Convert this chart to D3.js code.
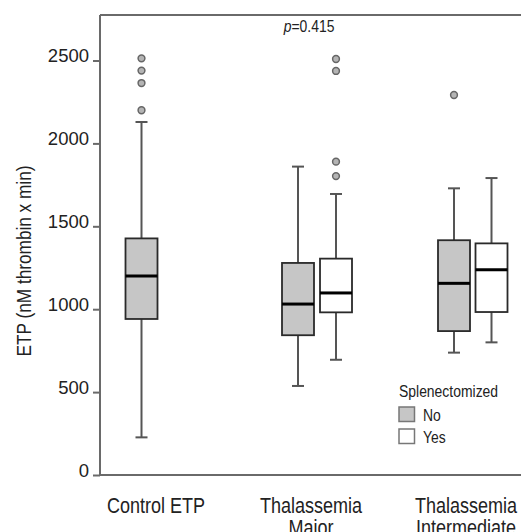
<!DOCTYPE html>
<html><head><meta charset="utf-8">
<script src="https://cdn.jsdelivr.net/npm/d3@7"></script>
<style>body{margin:0;background:#fff}svg{display:block}</style>
</head><body>
<svg id="chart" width="521" height="532"></svg>
<script>
// ---- data ----
const groups = ["Control ETP", "Thalassemia Major", "Thalassemia Intermediate"];
const groupLines = [["Control ETP"], ["Thalassemia", "Major"], ["Thalassemia", "Intermediate"]];
const boxKeys = ["Control", "Major-No", "Major-Yes", "Inter-No", "Inter-Yes"];
const boxSplen = ["No", "No", "Yes", "No", "Yes"];
const whiskerLow  = [227, 537, 695, 738, 800];
const q1          = [941, 843, 981, 868, 983];
const median      = [1200, 1031, 1098, 1156, 1238];
const q3          = [1427, 1279, 1305, 1416, 1397];
const whiskerHigh = [2129, 1860, 1695, 1729, 1791];
const outliers    = [[2513, 2439, 2364, 2200], [], [2509, 2437, 1890, 1803], [2292], []];
const yTicks = [0, 500, 1000, 1500, 2000, 2500];
const legendItems = ["No", "Yes"];
const pLabel = "0.415";

// ---- layout ----
const svg = d3.select("#chart");
const axisX = 100, bottomY = 475, topY = 15, rightX = 521;
const y = d3.scaleLinear().domain([0, 2500]).range([bottomY, 60.5]);
const xBox = d3.scaleOrdinal().domain(boxKeys).range([141.5, 298, 336, 454, 491.5]);
const xGroup = d3.scalePoint().domain(groups).range([156, 466]);
const fillScale = d3.scaleOrdinal().domain(["No", "Yes"]).range(["#c6c6c6", "#ffffff"]);
const boxW = 32, capW = 12;
const font = "'Liberation Sans', Arial, Helvetica, sans-serif";
const cond = 0.82; // horizontal condensing to mimic a condensed face

// frame lines
svg.append("line").attr("x1", axisX).attr("x2", rightX).attr("y1", topY).attr("y2", topY)
  .attr("stroke", "#6a6a6a").attr("stroke-width", 2);
svg.append("line").attr("x1", axisX).attr("x2", rightX).attr("y1", bottomY).attr("y2", bottomY)
  .attr("stroke", "#6a6a6a").attr("stroke-width", 2);

// y axis
const yAxis = svg.append("g").attr("transform", `translate(${axisX},0)`)
  .call(d3.axisLeft(y).tickValues(yTicks).tickSize(7).tickPadding(4).tickFormat(d3.format("d")));
yAxis.select(".domain").attr("d", `M0,${topY}V${bottomY}`).attr("stroke", "#6a6a6a").attr("stroke-width", 2);
yAxis.selectAll(".tick line").attr("stroke", "#6a6a6a").attr("stroke-width", 2);
yAxis.selectAll(".tick text").attr("font-family", font)
  .attr("font-size", 18.5).attr("fill", "#222").attr("dy", "0.06em");

// y title
svg.append("text").attr("transform", `translate(31,261) rotate(-90) scale(${cond},1)`)
  .attr("text-anchor", "middle").attr("font-family", font).attr("font-size", 21).attr("fill", "#222")
  .text("ETP (nM thrombin x min)");

// x labels
const xg = svg.append("g").selectAll("g").data(groups).join("g")
  .attr("transform", d => `translate(${xGroup(d)},513) scale(${cond},1)`);
const xl = xg.append("text").attr("text-anchor", "middle")
  .attr("font-family", font).attr("font-size", 22).attr("fill", "#222");
xl.selectAll("tspan").data((d, i) => groupLines[i]).join("tspan")
  .attr("x", 0).attr("dy", (d, i) => i === 0 ? 0 : 22).text(d => d);

// boxes
const boxes = boxKeys.map((k, i) => ({k, s: boxSplen[i], lo: whiskerLow[i], q1: q1[i], med: median[i], q3: q3[i], hi: whiskerHigh[i], out: outliers[i]}));
const bg = svg.append("g").selectAll("g").data(boxes).join("g");
const wColor = "#555";
bg.append("line").attr("x1", d => xBox(d.k)).attr("x2", d => xBox(d.k))
  .attr("y1", d => y(d.hi)).attr("y2", d => y(d.q3)).attr("stroke", wColor).attr("stroke-width", 2);
bg.append("line").attr("x1", d => xBox(d.k)).attr("x2", d => xBox(d.k))
  .attr("y1", d => y(d.q1)).attr("y2", d => y(d.lo)).attr("stroke", wColor).attr("stroke-width", 2);
bg.append("line").attr("x1", d => xBox(d.k) - capW / 2).attr("x2", d => xBox(d.k) + capW / 2)
  .attr("y1", d => y(d.hi)).attr("y2", d => y(d.hi)).attr("stroke", wColor).attr("stroke-width", 2);
bg.append("line").attr("x1", d => xBox(d.k) - capW / 2).attr("x2", d => xBox(d.k) + capW / 2)
  .attr("y1", d => y(d.lo)).attr("y2", d => y(d.lo)).attr("stroke", wColor).attr("stroke-width", 2);
bg.append("rect").attr("x", d => xBox(d.k) - boxW / 2).attr("width", boxW)
  .attr("y", d => y(d.q3)).attr("height", d => y(d.q1) - y(d.q3))
  .attr("fill", d => fillScale(d.s)).attr("stroke", "#2a2a2a").attr("stroke-width", 1.8);
bg.append("line").attr("x1", d => xBox(d.k) - boxW / 2).attr("x2", d => xBox(d.k) + boxW / 2)
  .attr("y1", d => y(d.med)).attr("y2", d => y(d.med)).attr("stroke", "#000").attr("stroke-width", 3);
bg.selectAll("circle").data(d => d.out.map(v => ({v, k: d.k}))).join("circle")
  .attr("cx", d => xBox(d.k)).attr("cy", d => y(d.v)).attr("r", 3.4)
  .attr("fill", "#b4b4b4").attr("stroke", "#666").attr("stroke-width", 1.5);

// p value
const pt = svg.append("text").attr("transform", `translate(309,32) scale(${cond},1)`).attr("text-anchor", "middle")
  .attr("font-family", font).attr("font-size", 17).attr("fill", "#222");
pt.append("tspan").attr("font-style", "italic").text("p");
pt.append("tspan").text("=" + pLabel);

// legend
const lg = svg.append("g");
lg.append("text").attr("transform", `translate(399,397) scale(${cond},1)`).attr("font-family", font).attr("font-size", 17)
  .attr("fill", "#222").text("Splenectomized");
const li = lg.selectAll("g.item").data(legendItems).join("g").attr("class", "item")
  .attr("transform", (d, i) => `translate(399,${407 + i * 22})`);
li.append("rect").attr("width", 15.5).attr("height", 14.5).attr("fill", d => fillScale(d))
  .attr("stroke", "#777").attr("stroke-width", 1.5);
li.append("text").attr("transform", `translate(24,14) scale(${cond},1)`).attr("font-family", font).attr("font-size", 17)
  .attr("fill", "#222").text(d => d);
</script>
</body></html>
